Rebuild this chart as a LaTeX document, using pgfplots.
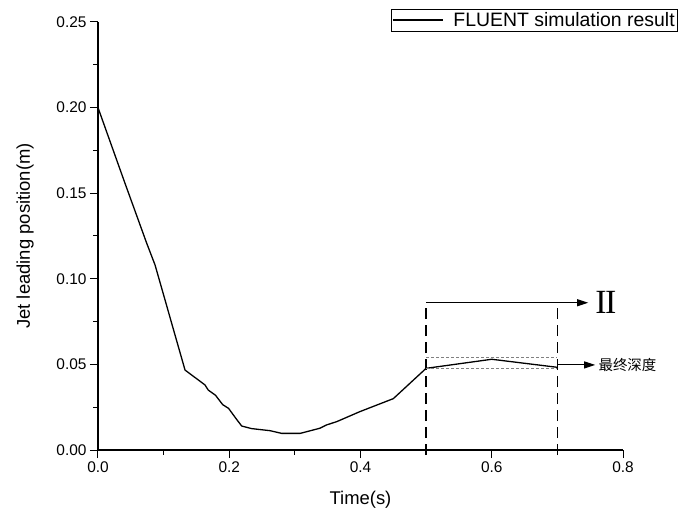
\documentclass[border=0pt]{standalone}
\usepackage{pgfplots}
\pgfplotsset{compat=1.18}
\usepackage{fontspec}
\setmainfont{Liberation Sans}
\newfontfamily\cjk{Noto Sans CJK SC}
\newfontfamily\seriffont{Liberation Serif}
\usetikzlibrary{arrows.meta}
\begin{document}
\begin{tikzpicture}
\path[use as bounding box] (-98bp,-64bp) rectangle (582bp,450bp);
\begin{axis}[
  scale only axis,
  width=525bp, height=428bp,
  xmin=0, xmax=0.8, ymin=0, ymax=0.25,
  axis x line*=bottom, axis y line*=left,
  axis line style={line width=1.1bp},
  xtick={0,0.2,0.4,0.6,0.8},
  ytick={0,0.05,0.10,0.15,0.20,0.25},
  minor x tick num=1, minor y tick num=1,
  tick align=outside,
  major tick length=8bp, minor tick length=4.5bp,
  every tick/.style={black, line width=1bp},
  /pgf/number format/assume math mode=true,
  xticklabel style={/pgf/number format/.cd, fixed, fixed zerofill, precision=1},
  yticklabel style={/pgf/number format/.cd, fixed, fixed zerofill, precision=2},
  tick label style={font=\fontsize{15.5}{17}\selectfont},
  label style={font=\fontsize{18.5}{21}\selectfont},
  xlabel={Time(s)},
  ylabel={Jet leading position(m)},
  x label style={at={(axis description cs:0.5,-0.1168)}, anchor=center},
  y label style={at={(axis description cs:-0.139,0.5)}, anchor=center},
  clip=false,
  legend style={draw=black, line width=0.6bp, at={(axis description cs:1.1048,1.0304)}, anchor=north east,
    font=\fontsize{19.5}{22}\selectfont, inner xsep=1bp, inner ysep=1bp, row sep=0pt,
    /tikz/every odd column/.append style={column sep=8bp}},
  legend image code/.code={\path (-7bp,0bp) -- (43bp,0bp);\draw[line width=1.1bp] (0bp,0bp) -- (43bp,0bp);},
]
\addplot[black, line width=1.3bp, line join=round] coordinates {
(0, 0.200) (0.04, 0.157) (0.074, 0.121) (0.087, 0.108) (0.1326, 0.0467)
(0.163, 0.038) (0.168, 0.035) (0.179, 0.032) (0.19, 0.0265) (0.199, 0.0243)
(0.211, 0.018) (0.219, 0.014) (0.234, 0.0125) (0.262, 0.0113) (0.28, 0.0097)
(0.308, 0.0097) (0.338, 0.0127) (0.348, 0.0146) (0.364, 0.0166) (0.399, 0.0224)
(0.45, 0.030) (0.5, 0.0477) (0.6, 0.053) (0.7, 0.0483)
};
\addlegendentry{FLUENT simulation result}
% annotations
\draw[black, line width=1.6bp, dash pattern=on 11bp off 6bp] (axis cs:0.5,-0.003) -- (axis cs:0.5,0.086);
\draw[black, line width=1.6bp, dash pattern=on 11bp off 6bp] (axis cs:0.7,-0.003) -- (axis cs:0.7,0.086);
\draw[gray, line width=0.7bp, dash pattern=on 3bp off 2bp] (axis cs:0.5,0.0539) -- (axis cs:0.7,0.0539);
\draw[gray, line width=0.7bp, dash pattern=on 3bp off 2bp] (axis cs:0.5,0.0477) -- (axis cs:0.7,0.0477);
\draw[black, line width=1.1bp, -{Triangle[length=11bp,width=7bp]}] (axis cs:0.5,0.086) -- (axis cs:0.747,0.086);
\draw[black, line width=1.1bp, -{Triangle[length=11bp,width=7bp]}] (axis cs:0.7,0.0497) -- (axis cs:0.7576,0.0497);
\node[inner sep=0, anchor=center] at (axis cs:0.774,0.0864) {\seriffont\fontsize{34}{36}\selectfont I\kern-1.5bp I};
\node[inner sep=0, anchor=west] at (axis cs:0.7625,0.0497) {\cjk\fontsize{14.5}{16}\selectfont 最终深度};
\end{axis}
\end{tikzpicture}
\end{document}
